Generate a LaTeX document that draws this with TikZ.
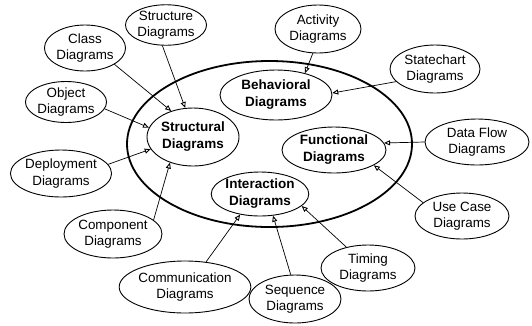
\documentclass[tikz,border=0pt]{standalone}
\usepackage{fontspec}
\setmainfont{Liberation Sans}
\usetikzlibrary{shapes.geometric,arrows.meta}
\tikzset{
  outer/.style={ellipse,draw,line width=0.9pt,inner sep=0pt,align=center,
    font=\fontsize{13.4}{16.5}\selectfont},
  inner/.style={ellipse,draw,line width=0.9pt,inner sep=0pt,align=center,
    font=\fontsize{13.5}{17}\selectfont\bfseries},
  big/.style={ellipse,draw,line width=1.8pt,inner sep=0pt},
  arr/.style={line width=0.7pt,-{Triangle[open,length=6pt,width=5pt,line width=0.9pt]}}
}
\begin{document}
\begin{tikzpicture}[x=1pt,y=-1pt]
\useasboundingbox (0,0) rectangle (532,325);
\node[big,minimum width=285,minimum height=166] (main) at (269.5,144) {};
% inner nodes
\node[inner,minimum width=92,minimum height=58] (structural) at (193,137) {Structural\\Diagrams};
\node[inner,minimum width=112,minimum height=50] (behavioral) at (276,95) {Behavioral\\Diagrams};
\node[inner,minimum width=104,minimum height=46] (functional) at (334,150) {Functional\\Diagrams};
\node[inner,minimum width=92,minimum height=44] (interaction) at (260,194) {Interaction\\Diagrams};
% outer nodes
\node[outer,minimum width=76,minimum height=46] (class) at (85,48) {Class\\Diagrams};
\node[outer,minimum width=76,minimum height=40] (structure) at (166,25) {Structure\\Diagrams};
\node[outer,minimum width=80,minimum height=40] (object) at (66,102) {Object\\Diagrams};
\node[outer,minimum width=98,minimum height=47] (deployment) at (61,173.5) {Deployment\\Diagrams};
\node[outer,minimum width=92,minimum height=48] (component) at (113,234) {Component\\Diagrams};
\node[outer,minimum width=116,minimum height=52] (communication) at (185,287) {Communication\\Diagrams};
\node[outer,minimum width=92,minimum height=48] (sequence) at (295,299) {Sequence\\Diagrams};
\node[outer,minimum width=94,minimum height=46] (timing) at (368,268) {Timing\\Diagrams};
\node[outer,minimum width=94,minimum height=46] (usecase) at (462,216) {Use Case\\Diagrams};
\node[outer,minimum width=104,minimum height=46] (dataflow) at (477,142) {Data Flow\\Diagrams};
\node[outer,minimum width=90,minimum height=48] (statechart) at (435,69) {Statechart\\Diagrams};
\node[outer,minimum width=86,minimum height=48] (activity) at (318,29) {Activity\\Diagrams};
% connectors
\draw[arr] (structure.-100) -- (structural.105);
\draw[arr] (class.-29) -- (structural.130);
\draw[arr] (object.-10) -- (structural.168);
\draw[arr] (deployment.11) -- (structural.196);
\draw[arr] (component.19) -- (structural.228);
\draw[arr] (activity.-102) -- (behavioral.37);
\draw[arr] (statechart.198) -- (behavioral.2);
\draw[arr] (dataflow.180) -- (functional.8);
\draw[arr] (usecase.161) -- (functional.-21);
\draw[arr] (timing.136) -- (interaction.-16);
\draw[arr] (sequence.100) -- (interaction.-59);
\draw[arr] (communication.50) -- (interaction.226);
\end{tikzpicture}
\end{document}
